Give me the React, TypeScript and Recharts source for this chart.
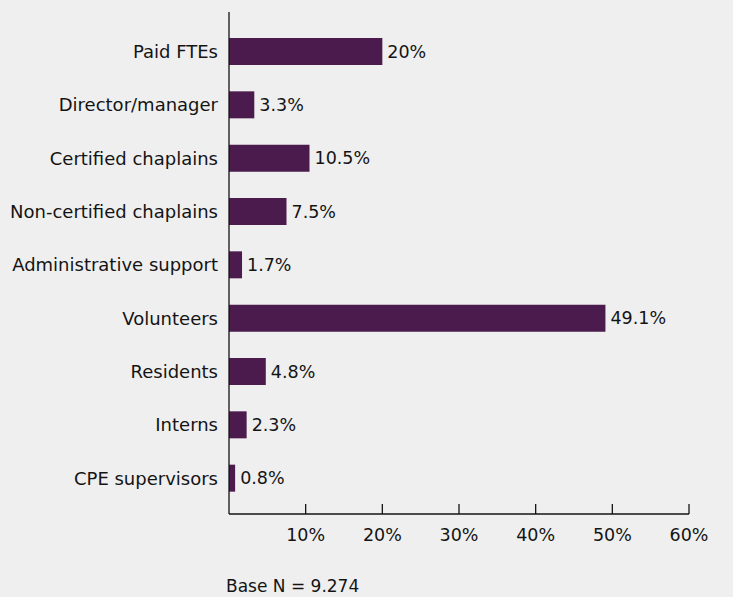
import React from "react";
import { BarChart, Bar, XAxis, YAxis, LabelList } from "recharts";

const categories = [
  "Paid FTEs",
  "Director/manager",
  "Certified chaplains",
  "Non-certified chaplains",
  "Administrative support",
  "Volunteers",
  "Residents",
  "Interns",
  "CPE supervisors",
];
const values = [20, 3.3, 10.5, 7.5, 1.7, 49.1, 4.8, 2.3, 0.8];
const xTicks = [10, 20, 30, 40, 50, 60];
const baseNote = "Base N = 9.274";

const data = categories.map((name, i) => ({ name, value: values[i] }));

const FONT = "'DejaVu Sans', sans-serif";
const INK = "#141414";

const XTick = (props: any) => {
  const { x, y, payload } = props;
  return (
    <g>
      <line x1={x} x2={x} y1={y - 10} y2={y} stroke={INK} strokeWidth={1.3} />
      <text x={x} y={y + 27} textAnchor="middle" fill={INK} fontSize={17.5} fontFamily={FONT}>
        {`${payload.value}%`}
      </text>
    </g>
  );
};

export default function App() {
  return (
    <div
      style={{
        position: "fixed",
        left: 0,
        top: 0,
        width: 733,
        height: 597,
        background: "#efefef",
        overflow: "hidden",
      }}
    >
      <BarChart
        width={733}
        height={597}
        data={data}
        layout="vertical"
        margin={{ top: 12, right: 44, bottom: 53, left: 0 }}
        barCategoryGap={0}
      >
        <XAxis
          type="number"
          domain={[0, 60]}
          ticks={xTicks}
          height={30}
          tickSize={0}
          tickMargin={0}
          tickLine={false}
          axisLine={{ stroke: INK, strokeWidth: 1.3 }}
          tick={<XTick />}
          interval={0}
          allowDataOverflow
        />
        <YAxis
          type="category"
          dataKey="name"
          width={229}
          tickSize={0}
          tickMargin={11}
          tickLine={false}
          axisLine={{ stroke: INK, strokeWidth: 1.3 }}
          tick={{ fill: INK, fontSize: 18, fontFamily: FONT }}
          interval={0}
          padding={{ top: 13, bottom: 9 }}
        />
        <Bar dataKey="value" fill="#4a1b4c" barSize={27} isAnimationActive={false}>
          <LabelList
            dataKey="value"
            position="right"
            offset={5}
            formatter={(v: any) => `${v}%`}
            style={{ fill: INK, fontSize: 17.5, fontFamily: FONT }}
          />
        </Bar>
      </BarChart>
      <div
        style={{
          position: "absolute",
          left: 226,
          top: 576,
          fontFamily: FONT,
          fontSize: 17,
          color: INK,
          whiteSpace: "nowrap",
        }}
      >
        {baseNote}
      </div>
    </div>
  );
}
